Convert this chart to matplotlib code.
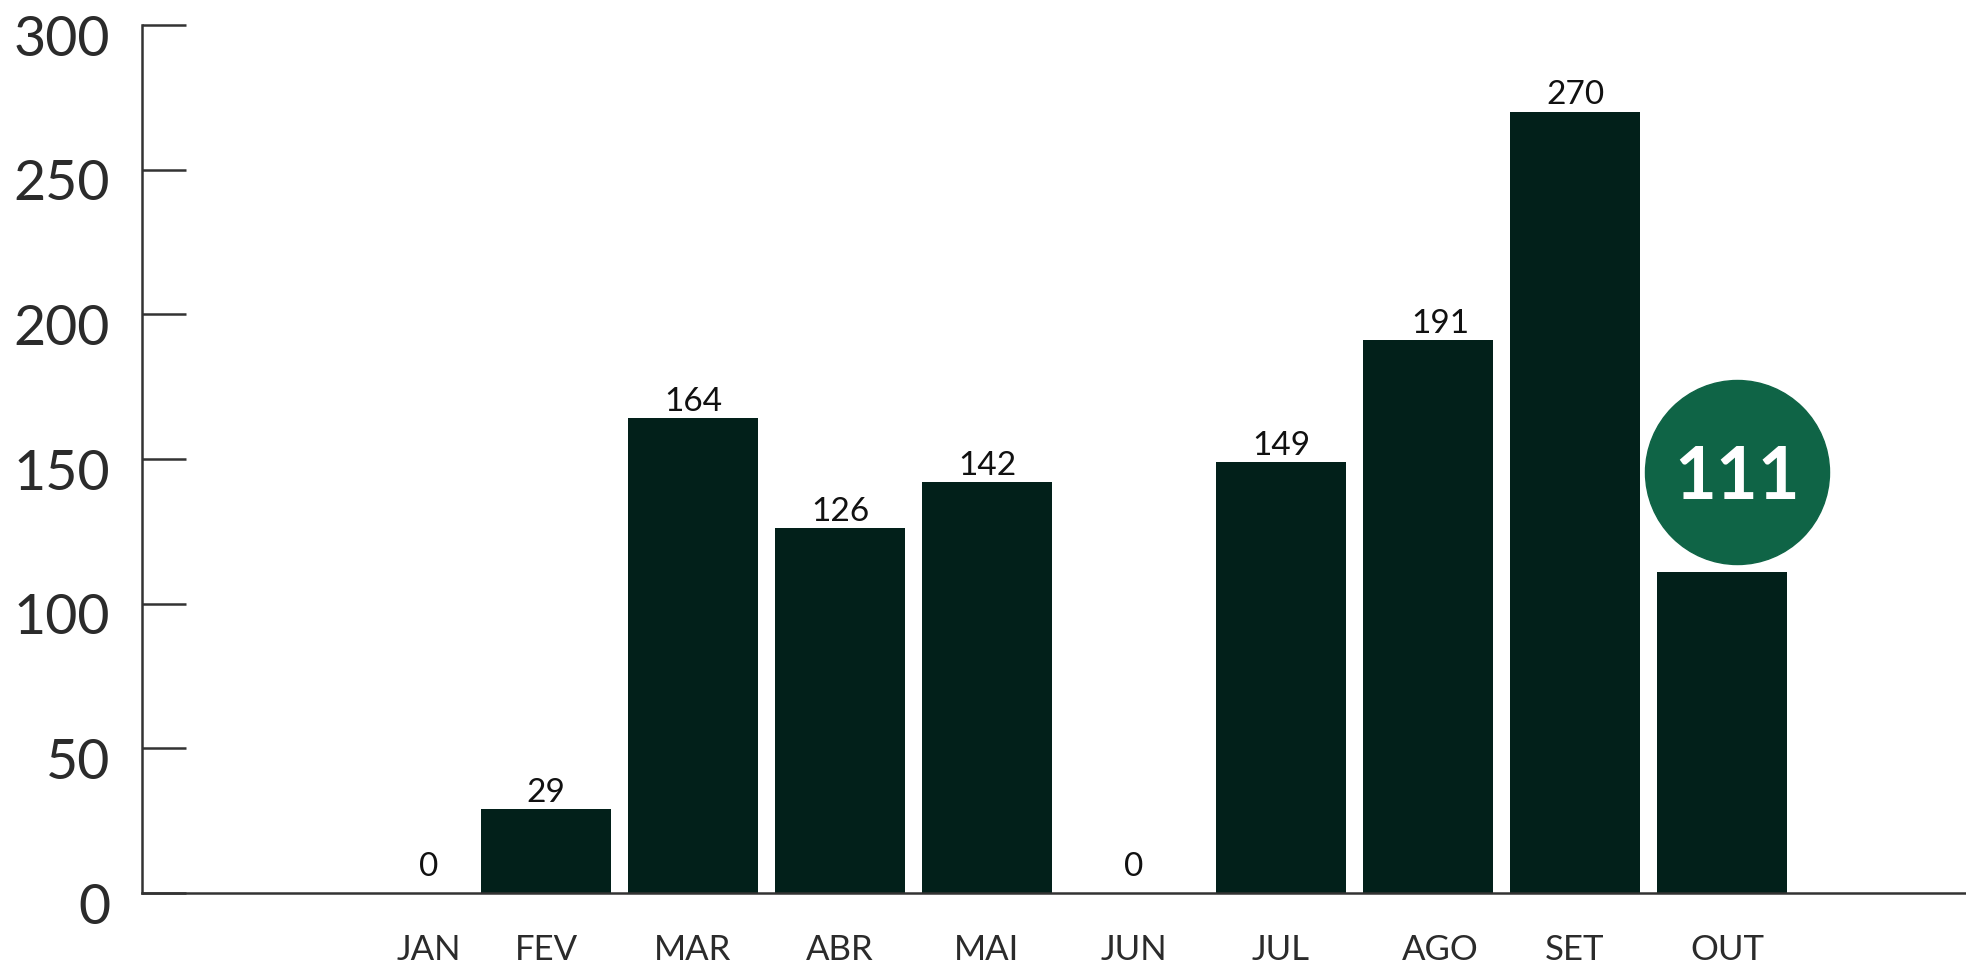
import matplotlib
matplotlib.use('Agg')
import matplotlib.pyplot as plt
from matplotlib.transforms import ScaledTranslation
import numpy as np

months = ['JAN', 'FEV', 'MAR', 'ABR', 'MAI', 'JUN', 'JUL', 'AGO', 'SET', 'OUT']
values = [0, 29, 164, 126, 142, 0, 149, 191, 270, 111]
yticks = [0, 50, 100, 150, 200, 250, 300]
highlight_index = 9

# small horizontal shifts of the month labels (style only)
label_shift = [0.2, 0, 0, 0, 0, 0, 0, 0.085, 0, 0.04]

BAR = '#02201A'
CIRCLE = '#0F6446'
TEXT = '#2B2B2B'
AXIS = '#333333'

plt.rcParams['font.family'] = ['Lato', 'DejaVu Sans']

W, H = 1966, 963
fig = plt.figure(figsize=(W / 100, H / 100), dpi=100)
ax = fig.add_axes([142 / W, 1 - 893 / H, 1 - 142 / W, (893 - 25) / H])

x = np.arange(len(months))
ax.bar(x, values, width=0.887, color=BAR, zorder=2)
ax.set_xlim(-1.748, 10.66)
ax.set_ylim(0, 300)

for s in ['top', 'right']:
    ax.spines[s].set_visible(False)
for s in ['left', 'bottom']:
    ax.spines[s].set_linewidth(1.8)
    ax.spines[s].set_color(AXIS)

ax.set_yticks(yticks)
ax.set_yticklabels([str(t) for t in yticks])
ax.tick_params(axis='y', direction='in', length=32, width=1.8, color=AXIS,
               labelsize=40, pad=23, labelcolor=TEXT)
off = ScaledTranslation(0, -10 / 100, fig.dpi_scale_trans)
for lab in ax.get_yticklabels():
    lab.set_transform(lab.get_transform() + off)

ax.set_xticks(x + np.array(label_shift))
ax.set_xticklabels(months)
ax.tick_params(axis='x', length=0, pad=29.5, labelsize=25, labelcolor=TEXT)

for i, v in enumerate(values):
    if i == highlight_index:
        continue
    ax.annotate(str(v), (x[i] + label_shift[i], v), xytext=(0, 8 if v == 0 else 1),
                textcoords='offset points', ha='center', va='bottom',
                fontsize=24, color='#111111', zorder=4)

# highlighted value in a circle above its bar
tr = ax.transData + ScaledTranslation(10.8 / 72, 72 / 72, fig.dpi_scale_trans)
ax.plot([x[highlight_index]], [values[highlight_index]], 'o', ms=132.5,
        color=CIRCLE, transform=tr, clip_on=False, zorder=3)
ax.text(x[highlight_index], values[highlight_index], str(values[highlight_index]),
        transform=tr, ha='center', va='center_baseline', fontsize=52,
        fontweight='bold', color='white', zorder=4)

fig.savefig('out.png', dpi=100, facecolor='white')
